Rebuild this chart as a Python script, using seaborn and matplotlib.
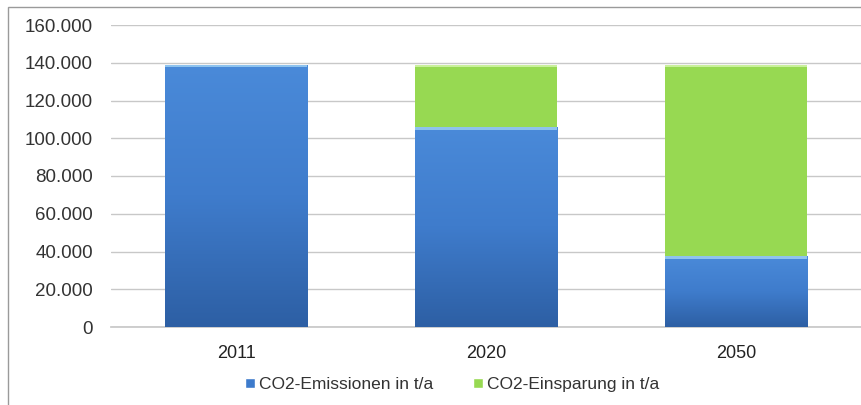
import numpy as np
import pandas as pd
import seaborn as sns
import matplotlib.pyplot as plt
from matplotlib.ticker import FuncFormatter
from matplotlib.patches import Rectangle
from matplotlib.lines import Line2D
from matplotlib.colors import LinearSegmentedColormap

# Daten (t/a)
jahre = ['2011', '2020', '2050']
emissionen = [139000, 106000, 37500]
einsparung = [0, 33000, 101500]

farbe_emission = '#3d7bcc'
farbe_einsparung = '#97d952'

sns.set_theme(style='white')
plt.rcParams['font.family'] = ['Liberation Sans', 'DejaVu Sans']

df = pd.DataFrame({'Jahr': jahre,
                   'Emissionen': emissionen,
                   'Einsparung': einsparung})
df['Gesamt'] = df['Emissionen'] + df['Einsparung']

fig = plt.figure(figsize=(8.61, 4.05), dpi=100)
ax = fig.add_axes([111 / 861, 78 / 405, 750 / 861, 302 / 405])

# Gestapelte Balken: Gesamt (grün) hinten, Emissionen (blau) davor
sns.barplot(data=df, x='Jahr', y='Gesamt', color=farbe_einsparung,
            saturation=1, width=0.57, ax=ax, zorder=3, linewidth=0)
sns.barplot(data=df, x='Jahr', y='Emissionen', color=farbe_emission,
            saturation=1, width=0.57, ax=ax, zorder=4, linewidth=0)

ax.set_ylim(0, 160000)

# Farbverlauf in den blauen Balken (wie im Excel-Diagramm)
verlauf = LinearSegmentedColormap.from_list('blau', ['#2d5fa4', '#3f7ccc', '#4a8ad9'])
for bar in ax.containers[1]:
    x0, y0 = bar.get_x(), bar.get_y()
    w, h = bar.get_width(), bar.get_height()
    img = ax.imshow(np.linspace(0, 1, 256).reshape(-1, 1), cmap=verlauf, origin='lower',
                    extent=[x0, x0 + w, y0, y0 + h], aspect='auto', zorder=5)
    img.set_clip_path(bar)
    # heller Streifen oben
    ax.add_patch(Rectangle((x0, y0 + h - 1500), w, 1500, color='#8ec3ee', zorder=6, lw=0))
for bar in ax.containers[0]:
    x0, y0 = bar.get_x(), bar.get_y()
    w, h = bar.get_width(), bar.get_height()
    if h > 0:
        ax.add_patch(Rectangle((x0, y0 + h - 1500), w, 1500, color='#c9ef9c', zorder=3.5, lw=0))

ax.set_xlim(-0.5, 2.5)
ax.set_ylim(0, 160000)
ax.set_yticks(np.arange(0, 160001, 20000))
ax.yaxis.set_major_formatter(FuncFormatter(lambda v, p: f'{int(v):,}'.replace(',', '.')))
ax.grid(axis='y', color='#c8c8c8', linewidth=1, zorder=0)
ax.set_axisbelow(True)
for s in ['top', 'right', 'left']:
    ax.spines[s].set_visible(False)
ax.spines['bottom'].set_color('#c8c8c8')
ax.set_xlabel('')
ax.set_ylabel('')
ax.tick_params(axis='y', labelsize=13.5, colors='#333333', pad=13, length=0)
ax.tick_params(axis='x', labelsize=13, colors='#222222', pad=13, length=0)

# Legende
handles = [Line2D([0], [0], marker='s', color='w', markerfacecolor=farbe_emission,
                  markersize=7, label='CO2-Emissionen in t/a'),
           Line2D([0], [0], marker='s', color='w', markerfacecolor=farbe_einsparung,
                  markersize=7, label='CO2-Einsparung in t/a')]
fig.legend(handles=handles, loc='center', bbox_to_anchor=(448 / 861, 1 - 384 / 405),
           ncol=2, frameon=False, fontsize=12.5, handletextpad=-0.2,
           handlelength=1.5, columnspacing=1.8, labelcolor='#333333')

# Rahmen des Diagramms
fig.patches.append(Rectangle((8 / 861, -0.1), 2, 1.1 - 7 / 405, transform=fig.transFigure,
                             fill=False, edgecolor='#9a9a9a', linewidth=1))

plt.savefig('out.png', dpi=100)
